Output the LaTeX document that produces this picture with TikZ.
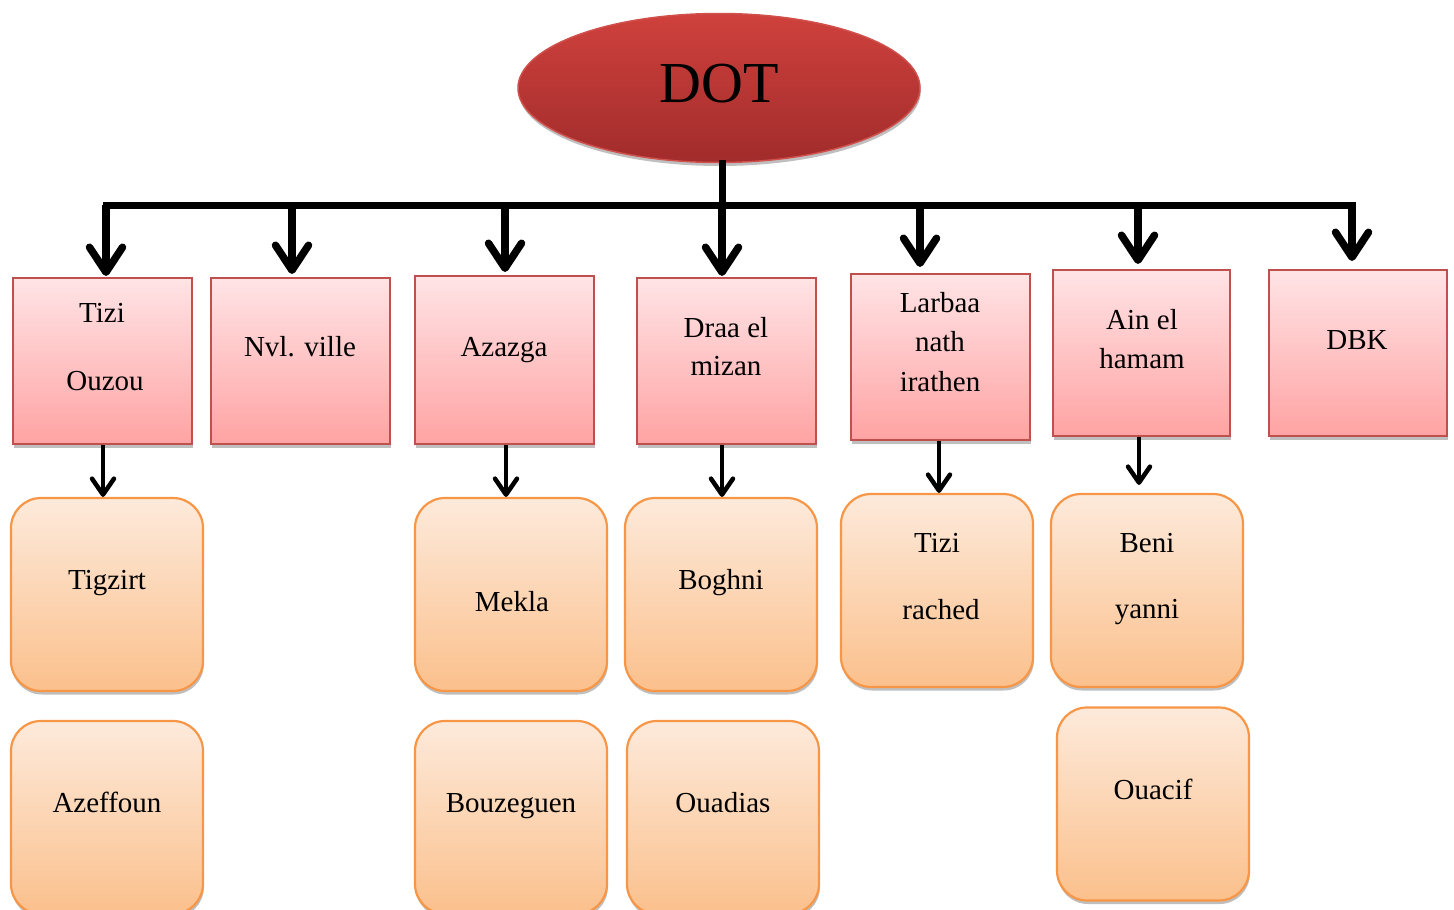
\documentclass[tikz,border=0pt]{standalone}
\usepackage{fontspec}
\setmainfont{Liberation Serif}
\usetikzlibrary{shapes.geometric,arrows.meta,shadows}
\definecolor{pinkT}{HTML}{FFE4E6}
\definecolor{pinkBot}{HTML}{FFA3A3}
\definecolor{pinkLine}{HTML}{C0504D}
\definecolor{orT}{HTML}{FDEADB}
\definecolor{orBot}{HTML}{FBC08C}
\definecolor{orLine}{HTML}{F79646}
\definecolor{redT}{HTML}{CF413D}
\definecolor{redBot}{HTML}{A12C2B}
\definecolor{redLine}{HTML}{D0504C}
\begin{document}
\begin{tikzpicture}[x=1pt,y=-1pt,
  shadowed/.style={drop shadow={shadow xshift=0.8pt,shadow yshift=-3.5pt,opacity=0.25,fill=black}},
  pinkbox/.style={draw=pinkLine,line width=2pt,top color=pinkT,bottom color=pinkBot,
    minimum width=179pt,minimum height=166pt,inner sep=0pt,shadowed},
  orbox/.style={draw=orLine,line width=2.2pt,top color=orT,bottom color=orBot,rounded corners=30pt,
    minimum width=192pt,minimum height=193pt,inner sep=0pt,shadowed},
  lbl/.style={font=\fontsize{29}{35}\selectfont,inner sep=0pt,anchor=base},
  busline/.style={line width=7pt,line cap=rect},
  bigarr/.style={line width=7.5pt,-{Straight Barb[length=25pt,width=33pt,round]}},
  smallarr/.style={line width=4.5pt,-{Straight Barb[length=16pt,width=22pt,round]}}]
\useasboundingbox (0,0) rectangle (1454,910);

% root
\node[ellipse,draw=redLine,line width=1.5pt,top color=redT,bottom color=redBot,
  minimum width=402pt,minimum height=149pt,shadowed] (dot) at (719,88) {};
\node[font=\fontsize{58}{60}\selectfont,inner sep=0pt,anchor=base] (dotlbl) at (719,102) {DOT};

% top-row boxes
\node[pinkbox] (tizi) at (102.5,361) {};
\node[pinkbox] (nvl) at (300.5,361) {};
\node[pinkbox,minimum height=168pt] (azazga) at (504.5,360) {};
\node[pinkbox] (draa) at (726.5,361) {};
\node[pinkbox] (larbaa) at (940.5,357) {};
\node[pinkbox,minimum width=177pt] (ain) at (1141.5,353) {};
\node[pinkbox,minimum width=178pt] (dbk) at (1358,353) {};

\node[lbl] (l1a) at (102,322) {Tizi};
\node[lbl] (l1b) at (105,390) {Ouzou};
\node[lbl] (l2) at (300,356) {Nvl. ville};
\node[lbl] (l3) at (504,356) {Azazga};
\node[lbl] (l4a) at (726,337) {Draa el};
\node[lbl] (l4b) at (726,375) {mizan};
\node[lbl] (l5a) at (940,312) {Larbaa};
\node[lbl] (l5b) at (940,351) {nath};
\node[lbl] (l5c) at (940,391) {irathen};
\node[lbl] (l6a) at (1142,329) {Ain el};
\node[lbl] (l6b) at (1142,368) {hamam};
\node[lbl] (l7) at (1357,349) {DBK};

% lower boxes
\node[orbox] (tigzirt) at (107,594.5) {};
\node[orbox] (azeffoun) at (107,817.5) {};
\node[orbox] (mekla) at (511,594.5) {};
\node[orbox] (bouzeguen) at (511,817.5) {};
\node[orbox] (boghni) at (721,594.5) {};
\node[orbox] (ouadias) at (723,817.5) {};
\node[orbox] (tizir) at (937,590.5) {};
\node[orbox] (beni) at (1147,590.5) {};
\node[orbox] (ouacif) at (1153,804) {};

\node[lbl] (m1) at (107,589) {Tigzirt};
\node[lbl] (m2) at (107,812) {Azeffoun};
\node[lbl] (m3) at (512,611) {Mekla};
\node[lbl] (m4) at (511,812) {Bouzeguen};
\node[lbl] (m5) at (721,589) {Boghni};
\node[lbl] (m6) at (723,812) {Ouadias};
\node[lbl] (m7a) at (937,552) {Tizi};
\node[lbl] (m7b) at (941,619) {rached};
\node[lbl] (m8a) at (1147,552) {Beni};
\node[lbl] (m8b) at (1147,618) {yanni};
\node[lbl] (m9) at (1153,799) {Ouacif};

% bus
\coordinate (b1) at (106,205);
\coordinate (b2) at (292,205);
\coordinate (b3) at (505,205);
\coordinate (b4) at (722,205);
\coordinate (b5) at (920,205);
\coordinate (b6) at (1138,205);
\coordinate (b7) at (1352,205);
\draw[busline] (b4 |- dot.south) -- (b4);
\draw[busline] (b1) -- (b7);
\draw[bigarr,shorten >=1pt] (b1) -- (b1 |- tizi.north);
\draw[bigarr,shorten >=3pt] (b2) -- (b2 |- nvl.north);
\draw[bigarr,shorten >=3pt] (b3) -- (b3 |- azazga.north);
\draw[bigarr,shorten >=1pt] (b4) -- (b4 |- draa.north);
\draw[bigarr,shorten >=6pt] (b5) -- (b5 |- larbaa.north);
\draw[bigarr,shorten >=5pt] (b6) -- (b6 |- ain.north);
\draw[bigarr,shorten >=8pt] (b7) -- (b7 |- dbk.north);

% small arrows
\coordinate (s1) at (103,0);
\coordinate (s3) at (506,0);
\coordinate (s4) at (722,0);
\coordinate (s5) at (939,0);
\coordinate (s6) at (1139,0);
\draw[smallarr] (s1 |- tizi.south) -- (s1 |- tigzirt.north);
\draw[smallarr] (s3 |- azazga.south) -- (s3 |- mekla.north);
\draw[smallarr] (s4 |- draa.south) -- (s4 |- boghni.north);
\draw[smallarr] (s5 |- larbaa.south) -- (s5 |- tizir.north);
\draw[smallarr,shorten >=8pt] (s6 |- ain.south) -- (s6 |- beni.north);
\end{tikzpicture}
\end{document}
